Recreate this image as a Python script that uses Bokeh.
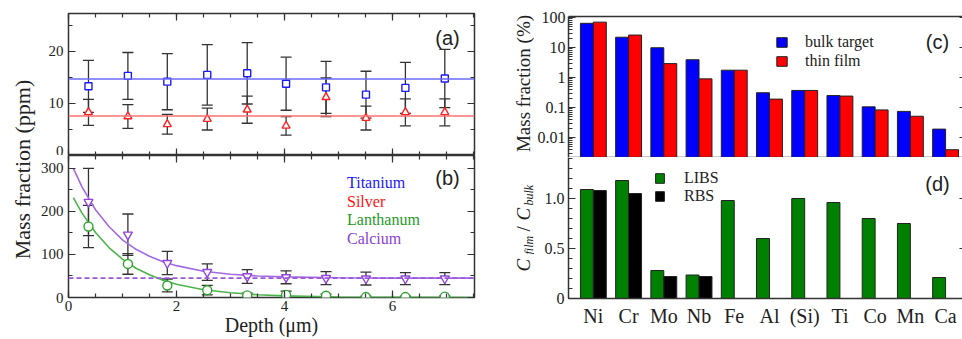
import numpy as np
from math import pi
from bokeh.plotting import figure
from bokeh.layouts import row, column
from bokeh.models import (ColumnDataSource, Whisker, TeeHead, Span, Label, Legend, LegendItem,
                          LinearAxis, LogAxis, SingleIntervalTicker, FixedTicker,
                          CustomJSTickFormatter, Range1d)
from bokeh.transform import dodge
from bokeh.embed import file_html
from bokeh.resources import INLINE

# ---------------- data ----------------
depth = [0.37, 1.10, 1.83, 2.57, 3.31, 4.03, 4.77, 5.51, 6.24, 6.97]
ti = [13.3, 15.3, 14.2, 15.5, 15.8, 13.8, 13.1, 11.7, 13.0, 14.8]
ti_err = [5.0, 4.5, 5.4, 5.8, 5.9, 5.1, 5.0, 4.5, 4.9, 5.6]
ag = [8.3, 7.5, 6.0, 7.0, 8.8, 5.7, 11.2, 7.2, 8.3, 8.3]
ag_err = [2.5, 2.3, 1.9, 2.1, 2.6, 1.8, 3.7, 2.3, 2.6, 2.6]
ti_fit = 14.7
ag_fit = 7.6
la = [165, 78, 28, 17, 5, 6, 4, 1, 1, 2]
la_err = [49, 24, 15, 11, 5, 9, 4, 2, 2, 2]
ca = [222, 146, 80, 59, 49, 47, 45, 44, 44, 44]
ca_err = [78, 48, 27, 19, 16, 15, 15, 15, 14, 14]
ca_base = 45
fit_x = [0.09, 0.25, 0.5, 0.75, 1.0, 1.25, 1.5, 1.75, 2.0, 2.5, 3.0, 3.5, 4.0, 5.0, 6.0, 7.5]
ca_fit = [300, 257, 204, 165, 134, 112, 96, 83, 74, 61, 54, 50, 48, 46, 45, 45]
la_fit = [232, 196, 151, 116, 89, 68, 53, 40, 31, 18, 11, 6.4, 3.8, 1.3, 0.5, 0.1]

elements = ["Ni", "Cr", "Mo", "Nb", "Fe", "Al", "(Si)", "Ti", "Co", "Mn", "Ca"]
bulk = [64, 22, 9.8, 3.9, 1.75, 0.31, 0.37, 0.25, 0.105, 0.074, 0.019]
film = [70, 26, 2.9, 0.9, 1.75, 0.19, 0.37, 0.24, 0.083, 0.051, 0.0039]
libs = [1.09, 1.18, 0.28, 0.235, 0.98, 0.60, 1.00, 0.96, 0.80, 0.75, 0.21]
rbs_elements = ["Ni", "Cr", "Mo", "Nb"]
rbs = [1.08, 1.05, 0.22, 0.22]

# ---------------- style ----------------
SERIF = "Liberation Serif"
SANS = "Liberation Sans"
FRAME = "#333333"
TXT = "#222222"


def tick_axis(ax, ticker, labels=True, size="15px", standoff=5, maj=7, mnr=4, line=False, ticks=True):
    ax.ticker = ticker
    ax.major_tick_in = maj
    ax.major_tick_out = 0
    ax.minor_tick_in = mnr
    ax.minor_tick_out = 0
    ax.major_tick_line_color = FRAME if ticks else None
    ax.minor_tick_line_color = FRAME if ticks else None
    ax.major_tick_line_width = 1.2
    ax.minor_tick_line_width = 1.2
    ax.axis_line_color = FRAME if line else None
    ax.axis_line_width = 1.5
    ax.major_label_text_font = SERIF
    if labels:
        ax.major_label_text_color = TXT
        ax.major_label_text_font_size = size
        ax.major_label_standoff = standoff
    else:
        ax.formatter = CustomJSTickFormatter(code="return ' '")
        ax.major_label_text_color = None
        ax.major_label_text_font_size = "1px"
        ax.major_label_standoff = 0


def base_fig(**kw):
    p = figure(toolbar_location=None, output_backend="svg", **kw)
    p.grid.visible = False
    p.background_fill_color = "white"
    p.border_fill_color = "white"
    return p


def strip(width, height):
    s = base_fig(width=width, height=height, x_range=Range1d(0, 1), y_range=Range1d(0, 1), min_border=0)
    s.axis.visible = False
    s.outline_line_color = None
    return s


# ---------------- left label strip ----------------
pl = strip(36, 339)
pl.add_layout(Label(x=22, y=170, x_units="screen", y_units="screen", text="Mass fraction (ppm)",
                    angle=pi / 2, text_align="center", text_baseline="middle",
                    text_font=SERIF, text_font_size="22px", text_color=TXT))

# ---------------- panel (a) ----------------
xtick = SingleIntervalTicker(interval=2, num_minor_ticks=4)
pa = base_fig(width=442, height=155, x_range=Range1d(0, 7.52), y_range=Range1d(0, 27.3),
              min_border_left=32, min_border_right=4, min_border_top=13, min_border_bottom=0)
pa.outline_line_color = FRAME
pa.outline_line_width = 1.5
ya = SingleIntervalTicker(interval=10, num_minor_ticks=2)
tick_axis(pa.xaxis[0], xtick, labels=False)
tick_axis(pa.yaxis[0], ya)
ax_top = LinearAxis()
tick_axis(ax_top, xtick, labels=False)
pa.add_layout(ax_top, "above")
ax_r = LinearAxis()
tick_axis(ax_r, ya, labels=False)
pa.add_layout(ax_r, "right")

pa.add_layout(Span(location=ti_fit, dimension="width", line_color="#6a6aff", line_width=1.6))
pa.add_layout(Span(location=ag_fit, dimension="width", line_color="#ff7070", line_width=1.6))

src_a = ColumnDataSource(dict(x=depth, ti=ti, ag=ag,
                              ti_up=np.add(ti, ti_err), ti_lo=np.subtract(ti, ti_err),
                              ag_up=np.add(ag, ag_err), ag_lo=np.subtract(ag, ag_err)))
for up, lo in (("ti_up", "ti_lo"), ("ag_up", "ag_lo")):
    pa.add_layout(Whisker(source=src_a, base="x", upper=up, lower=lo, line_color=FRAME, line_width=1.3,
                          upper_head=TeeHead(size=11, line_color=FRAME, line_width=1.3),
                          lower_head=TeeHead(size=11, line_color=FRAME, line_width=1.3)))
pa.scatter("x", "ti", source=src_a, marker="square", size=7, line_color="#1a1aff", fill_color="white",
           line_width=1.4)
pa.scatter("x", "ag", source=src_a, marker="triangle", size=8, line_color="#ff2020", fill_color="white",
           line_width=1.4)
pa.add_layout(Label(x=379, y=118, x_units="screen", y_units="screen", text="(a)", text_align="center",
                    text_baseline="middle", text_font=SANS, text_font_size="20px", text_color=TXT))

# ---------------- panel (b) ----------------
pb = base_fig(width=442, height=184, x_range=pa.x_range, y_range=Range1d(0, 330),
              min_border_left=32, min_border_right=4, min_border_top=0, min_border_bottom=42)
pb.outline_line_color = FRAME
pb.outline_line_width = 1.5
yb = SingleIntervalTicker(interval=100, num_minor_ticks=2)
tick_axis(pb.xaxis[0], xtick, standoff=3)
tick_axis(pb.yaxis[0], yb)
pb.xaxis[0].axis_label = "Depth (\u03bcm)"
pb.xaxis[0].axis_label_text_font = SERIF
pb.xaxis[0].axis_label_text_font_size = "20px"
pb.xaxis[0].axis_label_text_font_style = "normal"
pb.xaxis[0].axis_label_text_color = TXT
pb.xaxis[0].axis_label_standoff = 0
bx_top = LinearAxis()
tick_axis(bx_top, xtick, labels=False)
pb.add_layout(bx_top, "above")
bx_r = LinearAxis()
tick_axis(bx_r, yb, labels=False)
pb.add_layout(bx_r, "right")

pb.add_layout(Span(location=ca_base, dimension="width", line_color="#9b55e0", line_width=1.6,
                   line_dash="5 3"))
src_b = ColumnDataSource(dict(x=depth, la=la, ca=ca,
                              la_up=np.add(la, la_err), la_lo=np.subtract(la, la_err),
                              ca_up=np.add(ca, ca_err), ca_lo=np.subtract(ca, ca_err)))
pb.line(fit_x, ca_fit, line_color="#a36ae3", line_width=1.6)
pb.line(fit_x, la_fit, line_color="#4cb44c", line_width=1.6)
for up, lo in (("ca_up", "ca_lo"), ("la_up", "la_lo")):
    pb.add_layout(Whisker(source=src_b, base="x", upper=up, lower=lo, line_color=FRAME, line_width=1.3,
                          upper_head=TeeHead(size=11, line_color=FRAME, line_width=1.3),
                          lower_head=TeeHead(size=11, line_color=FRAME, line_width=1.3)))
pb.scatter("x", "la", source=src_b, marker="circle", size=9, line_color="#2ea42e", fill_color="white",
           line_width=1.4)
pb.scatter("x", "ca", source=src_b, marker="inverted_triangle", size=9, line_color="#9446dc",
           fill_color="white", line_width=1.4)

leg_rows = [("Titanium", "square", "#1a1aff", "#1a1aff", 105),
            ("Silver", "triangle", "#ff2020", "#ff1010", 86.5),
            ("Lanthanum", "circle", "#2ea42e", "#1f9a1f", 68),
            ("Calcium", "inverted_triangle", "#9446dc", "#8a3fd2", 49.5)]
for name, mk, mcol, tcol, ly in leg_rows:
    proxy = pb.scatter(x=[], y=[], marker=mk, size=8, line_color=mcol, fill_color=None, line_width=1.4)
    lg = Legend(items=[LegendItem(label=name, renderers=[proxy])], location=(252, ly),
                glyph_width=20, glyph_height=18, label_height=16, label_standoff=7,
                padding=0, spacing=0, margin=0, border_line_color=None, background_fill_alpha=0,
                label_text_font=SERIF, label_text_font_size="16px", label_text_color=tcol)
    pb.add_layout(lg)
pb.add_layout(Label(x=379, y=120, x_units="screen", y_units="screen", text="(b)", text_align="center",
                    text_baseline="middle", text_font=SANS, text_font_size="20px", text_color=TXT))

# ---------------- right label strip ----------------
pr = strip(56, 339)
pr.add_layout(Label(x=45, y=256, x_units="screen", y_units="screen", text="Mass fraction (%)",
                    angle=pi / 2, text_align="center", text_baseline="middle",
                    text_font=SERIF, text_font_size="19px", text_color=TXT))
pieces = [("C", 45, 68, "19px", "italic"), ("film", 50, 85, "12px", "italic"),
          ("/", 45, 108, "19px", "normal"), ("C", 45, 119, "19px", "italic"),
          ("bulk", 50, 134, "12px", "italic")]
for t, px, py, fs, st in pieces:
    pr.add_layout(Label(x=px, y=py, x_units="screen", y_units="screen", text=t, angle=pi / 2,
                        text_align="left", text_baseline="alphabetic", text_font=SERIF,
                        text_font_size=fs, text_font_style=st, text_color=TXT))

# ---------------- panel (c) ----------------
xpos = list(range(len(elements)))
xr = Range1d(-0.706, 10.48)
pc = base_fig(width=428, height=157, x_range=xr, y_range=Range1d(0.00215, 108), y_axis_type="log",
              min_border_left=32, min_border_right=0, min_border_top=16, min_border_bottom=0)
pc.outline_line_color = None
minor_log = [k * 10.0 ** e for e in range(-3, 3) for k in range(2, 10)]
ytc = FixedTicker(ticks=[0.01, 0.1, 1, 10, 100], minor_ticks=minor_log)
tick_axis(pc.yaxis[0], ytc, size="16px", standoff=3, line=True)
pc.yaxis[0].formatter = CustomJSTickFormatter(code="return String(tick)")
catt = FixedTicker(ticks=xpos)
tick_axis(pc.xaxis[0], catt, labels=False, maj=1, mnr=1, line=True, ticks=False)
cx_top = LinearAxis()
tick_axis(cx_top, catt, labels=False, maj=1, mnr=1, line=True, ticks=False)
pc.add_layout(cx_top, "above")
cy_r = LogAxis()
tick_axis(cy_r, ytc, labels=False, maj=3, mnr=1)
cy_r.minor_tick_line_color = None
pc.add_layout(cy_r, "right")

src_c = ColumnDataSource(dict(x=xpos, bulk=bulk, film=film))
rb = pc.vbar(x=dodge("x", -0.184), top="bulk", bottom=1e-4, width=0.367, source=src_c,
             fill_color="#0000ff", line_color="#222222", line_width=1)
rr = pc.vbar(x=dodge("x", 0.184), top="film", bottom=1e-4, width=0.367, source=src_c,
             fill_color="#ff0000", line_color="#222222", line_width=1)
pc.add_layout(Legend(items=[LegendItem(label="bulk target", renderers=[rb]),
                            LegendItem(label="thin film", renderers=[rr])],
                     location=(207, 87), glyph_width=13, glyph_height=12, label_height=19,
                     label_standoff=17, padding=0, spacing=0, margin=0, border_line_color=None,
                     background_fill_alpha=0, label_text_font=SERIF, label_text_font_size="16px",
                     label_text_color=TXT))
pc.add_layout(Label(x=369, y=116, x_units="screen", y_units="screen", text="(c)", text_align="center",
                    text_baseline="middle", text_font=SANS, text_font_size="20px", text_color=TXT))

# ---------------- panel (d) ----------------
pdd = base_fig(width=428, height=182, x_range=xr, y_range=Range1d(0, 1.41),
               min_border_left=32, min_border_right=0, min_border_top=0, min_border_bottom=41)
pdd.outline_line_color = None
ytd = SingleIntervalTicker(interval=0.5, num_minor_ticks=5)
tick_axis(pdd.yaxis[0], ytd, size="16px", standoff=4, line=True)
pdd.yaxis[0].formatter = CustomJSTickFormatter(code="return tick == 0 ? '0' : tick.toFixed(1)")
tick_axis(pdd.xaxis[0], catt, size="20px", standoff=6, maj=1, mnr=1, line=True, ticks=False)
pdd.xaxis[0].formatter = CustomJSTickFormatter(args=dict(labels=elements),
                                               code="return labels[Math.round(tick)] || ''")
dy_r = LinearAxis()
tick_axis(dy_r, ytd, labels=False, maj=3, mnr=1)
dy_r.minor_tick_line_color = None
pdd.add_layout(dy_r, "right")

src_d = ColumnDataSource(dict(x=xpos, libs=libs))
src_r = ColumnDataSource(dict(x=[elements.index(e) for e in rbs_elements], rbs=rbs))
rl = pdd.vbar(x=dodge("x", -0.184), top="libs", bottom=0, width=0.367, source=src_d,
              fill_color="#008000", line_color="#222222", line_width=1)
rk = pdd.vbar(x=dodge("x", 0.184), top="rbs", bottom=0, width=0.367, source=src_r,
              fill_color="#000000", line_color="#222222", line_width=1)
pdd.add_layout(Legend(items=[LegendItem(label="LIBS", renderers=[rl]),
                             LegendItem(label="RBS", renderers=[rk])],
                      location=(86, 93), glyph_width=11, glyph_height=12, label_height=18,
                      label_standoff=19, padding=0, spacing=0, margin=0, border_line_color=None,
                      background_fill_alpha=0, label_text_font=SERIF, label_text_font_size="16px",
                      label_text_color=TXT))
pdd.add_layout(Label(x=369, y=115, x_units="screen", y_units="screen", text="(d)", text_align="center",
                     text_baseline="middle", text_font=SANS, text_font_size="20px", text_color=TXT))

layout = row(pl, column(pa, pb), pr, column(pc, pdd))
open("out.html", "w").write(file_html(layout, INLINE))
